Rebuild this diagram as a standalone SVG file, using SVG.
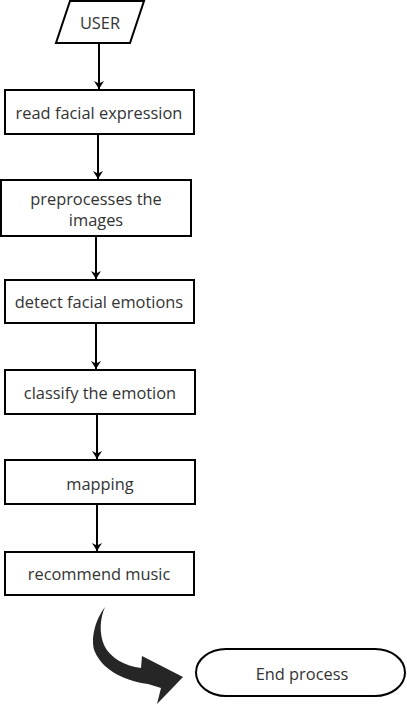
<svg xmlns="http://www.w3.org/2000/svg" width="407" height="723" viewBox="0 0 407 723">
<style>
.box{fill:#fff;stroke:#000;stroke-width:2}
.t{font-family:"Open Sans","Liberation Sans",sans-serif;font-size:16.4px;fill:#333;text-anchor:middle;dominant-baseline:central}
.c{stroke:#000;stroke-width:2;fill:none}
</style>
<defs>
<marker id="ah" viewBox="0 0 8 10" refX="8" refY="5" markerWidth="8" markerHeight="10" markerUnits="userSpaceOnUse" orient="auto">
<path d="M0,0 L8,5 L0,10 L2.5,5 Z" fill="#000"/>
</marker>
</defs>
<rect width="407" height="723" fill="#fff"/>
<g id="connectors">
<line class="c" x1="99" y1="44" x2="99" y2="89" marker-end="url(#ah)"/>
<line class="c" x1="98" y1="135" x2="98" y2="179" marker-end="url(#ah)"/>
<line class="c" x1="96" y1="237" x2="96" y2="279" marker-end="url(#ah)"/>
<line class="c" x1="96" y1="324" x2="96" y2="369" marker-end="url(#ah)"/>
<line class="c" x1="97" y1="414" x2="97" y2="459" marker-end="url(#ah)"/>
<line class="c" x1="97" y1="505" x2="97" y2="551" marker-end="url(#ah)"/>
<path d="M105,607 C95,620 90,640 95,652 C102,668 120,680 148,684 L161,688 L157,704 L183,677 L142,656 L141,668 C125,666 110,658 104,645 C99,633 100,618 105,607 Z" fill="#262626"/>
</g>
<g id="user">
<polygon class="box" points="70,1 144,1 130,43 56,43"/>
<text class="t" x="100" y="22">USER</text>
</g>
<g id="read">
<rect class="box" x="5" y="90" width="189" height="44"/>
<text class="t" x="99" y="112">read facial expression</text>
</g>
<g id="preprocess">
<rect class="box" x="1" y="180" width="190" height="56"/>
<text class="t" x="96" y="198">preprocesses the</text>
<text class="t" x="96" y="219">images</text>
</g>
<g id="detect">
<rect class="box" x="5" y="280" width="189" height="43"/>
<text class="t" x="99" y="301">detect facial emotions</text>
</g>
<g id="classify">
<rect class="box" x="5" y="370" width="190" height="44"/>
<text class="t" x="100" y="392">classify the emotion</text>
</g>
<g id="mapping">
<rect class="box" x="5" y="460" width="190" height="44"/>
<text class="t" x="100" y="483">mapping</text>
</g>
<g id="recommend">
<rect class="box" x="5" y="552" width="189" height="43"/>
<text class="t" x="99" y="573">recommend music</text>
</g>
<g id="end">
<rect class="box" x="196" y="649" width="209" height="47" rx="30" ry="23.5"/>
<text class="t" x="302" y="673">End process</text>
</g>
</svg>
